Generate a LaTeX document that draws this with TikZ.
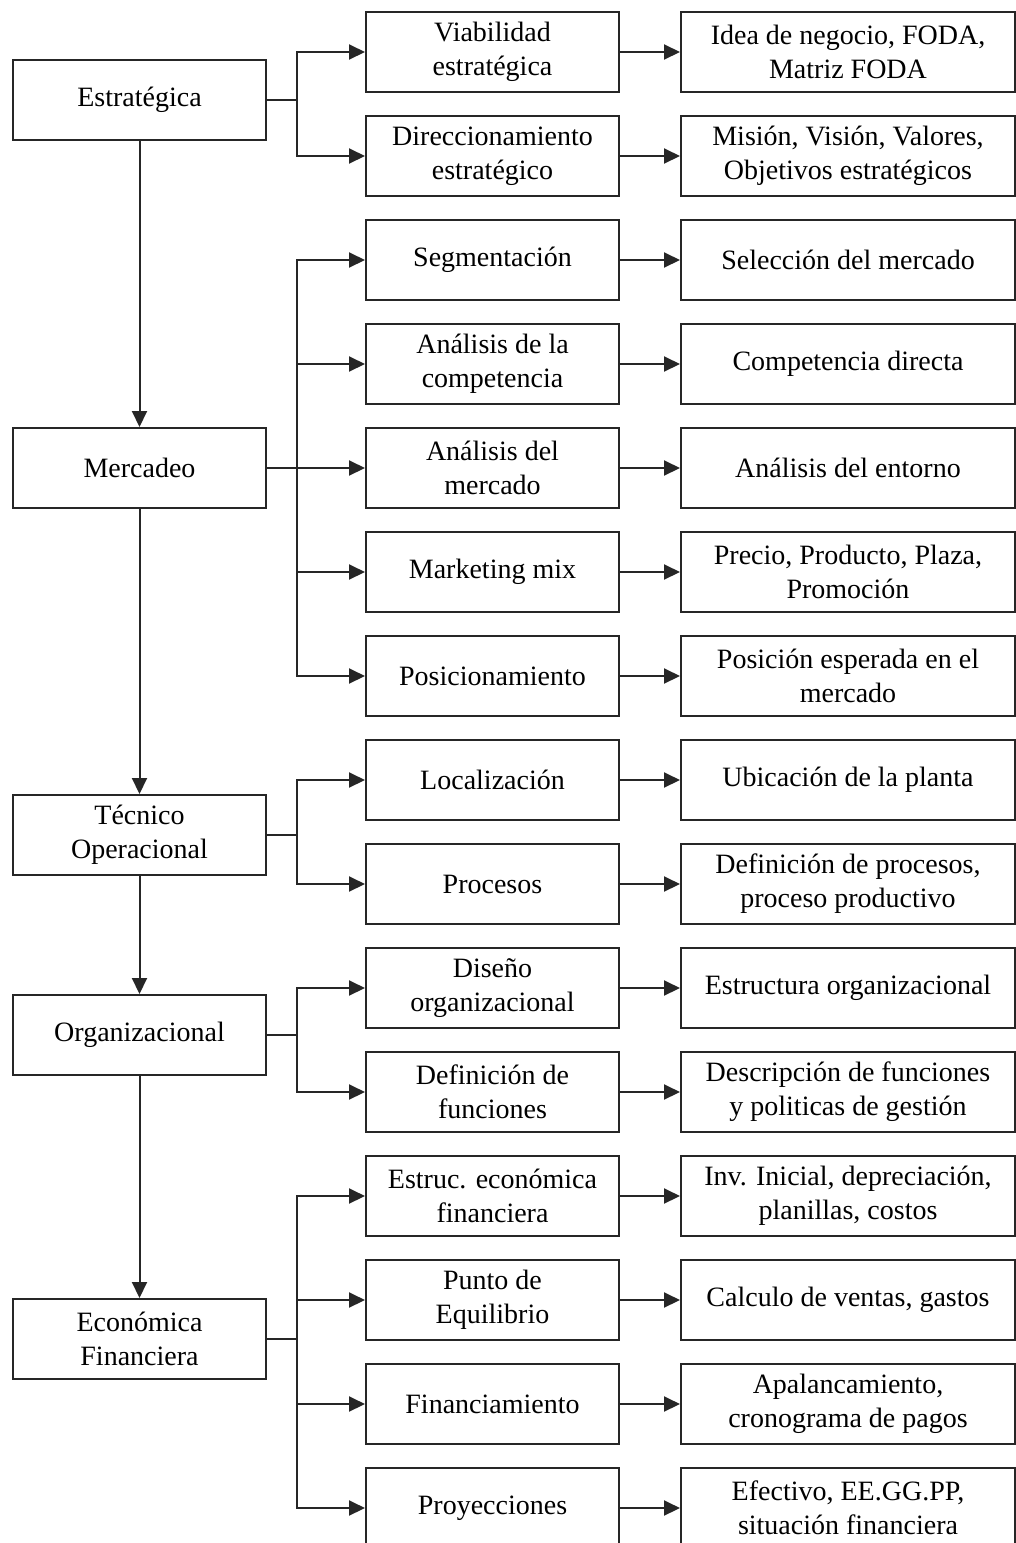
\documentclass[tikz,border=0pt]{standalone}
\usepackage{fontspec}
\setmainfont{Liberation Serif}
\usetikzlibrary{arrows.meta}

\tikzset{
  box/.style={draw=black!85, line width=1pt, minimum height=40pt, inner sep=1pt,
    align=center, font=\fontsize{14}{17}\selectfont},
  leftbox/.style={box, minimum width=126.5pt},
  midbox/.style={box, minimum width=126.5pt},
  rightbox/.style={box, minimum width=167pt},
  line/.style={draw=black!85, line width=1pt},
  stub/.style={line, line width=1.4pt},
  arr/.style={line, -{Triangle[length=8pt,width=7.5pt]}}
}

\begin{document}
\begin{tikzpicture}[x=0.5pt,y=-0.5pt]
        % frame
        \useasboundingbox (0,0) rectangle (1016,1543);
        \clip (0,0) rectangle (1016,1543);
        % left column
        \node[leftbox] (est) at (139.5,100) {Estratégica};
        \node[leftbox] (mer) at (139.5,468) {Mercadeo};
        \node[leftbox] (tec) at (139.5,835) {Técnico\\Operacional};
        \node[leftbox] (org) at (139.5,1035) {Organizacional};
        \node[leftbox] (eco) at (139.5,1339) {Económica\\Financiera};
        % middle column
        \node[midbox] (via) at (492.5,52)   {Viabilidad\\estratégica};
        \node[midbox] (dir) at (492.5,156)  {Direccionamiento\\estratégico};
        \node[midbox] (seg) at (492.5,260)  {Segmentación};
        \node[midbox] (com) at (492.5,364)  {Análisis de la\\competencia};
        \node[midbox] (ana) at (492.5,468)  {Análisis del\\mercado};
        \node[midbox] (mix) at (492.5,572)  {Marketing mix};
        \node[midbox] (pos) at (492.5,676)  {Posicionamiento};
        \node[midbox] (loc) at (492.5,780)  {Localización};
        \node[midbox] (pro) at (492.5,884)  {Procesos};
        \node[midbox] (dis) at (492.5,988)  {Diseño\\organizacional};
        \node[midbox] (fun) at (492.5,1092) {Definición de\\funciones};
        \node[midbox] (estr) at (492.5,1196) {Estruc. económica\\financiera};
        \node[midbox] (pun) at (492.5,1300) {Punto de\\Equilibrio};
        \node[midbox] (fin) at (492.5,1404) {Financiamiento};
        \node[midbox] (pry) at (492.5,1508) {Proyecciones};
        % right column
        \node[rightbox] (via2) at (848,52)   {Idea de negocio, FODA,\\Matriz FODA};
        \node[rightbox] (dir2) at (848,156)  {Misión, Visión, Valores,\\Objetivos estratégicos};
        \node[rightbox] (seg2) at (848,260)  {Selección del mercado};
        \node[rightbox] (com2) at (848,364)  {Competencia directa};
        \node[rightbox] (ana2) at (848,468)  {Análisis del entorno};
        \node[rightbox] (mix2) at (848,572)  {Precio, Producto, Plaza,\\Promoción};
        \node[rightbox] (pos2) at (848,676)  {Posición esperada en el\\mercado};
        \node[rightbox] (loc2) at (848,780)  {Ubicación de la planta};
        \node[rightbox] (pro2) at (848,884)  {Definición de procesos,\\proceso productivo};
        \node[rightbox] (dis2) at (848,988)  {Estructura organizacional};
        \node[rightbox] (fun2) at (848,1092) {Descripción de funciones\\y politicas de gestión};
        \node[rightbox] (estr2) at (848,1196) {Inv. Inicial, depreciación,\\planillas, costos};
        \node[rightbox] (pun2) at (848,1300) {Calculo de ventas, gastos};
        \node[rightbox] (fin2) at (848,1404) {Apalancamiento,\\cronograma de pagos};
        \node[rightbox] (pry2) at (848,1508) {Efectivo, EE.GG.PP,\\situación financiera};
        % main chain
        \draw[arr] (est) -- (mer);
        \draw[arr] (mer) -- (tec);
        \draw[arr] (tec) -- (org);
        \draw[arr] (org) -- (eco);
        % branch points
        \coordinate (bE) at (297,100);
        \coordinate (bM) at (297,468);
        \coordinate (bT) at (297,835);
        \coordinate (bO) at (297,1035);
        \coordinate (bF) at (297,1339);
        \draw[stub] (est.east) -- (bE);
        \draw[line] (mer.east) -- (bM);
        \draw[stub] (tec.east) -- (bT);
        \draw[line] (org.east) -- (bO);
        \draw[stub] (eco.east) -- (bF);
        \foreach \m in {via,dir} \draw[arr] (bE) |- (\m.west);
        \foreach \m in {seg,com,ana,mix,pos} \draw[arr] (bM) |- (\m.west);
        \foreach \m in {loc,pro} \draw[arr] (bT) |- (\m.west);
        \foreach \m in {dis,fun} \draw[arr] (bO) |- (\m.west);
        \foreach \m in {estr,pun,fin,pry} \draw[arr] (bF) |- (\m.west);
        % middle to right
        \foreach \m in {via,dir,seg,com,ana,mix,pos,loc,pro,dis,fun,estr,pun,fin,pry}
          \draw[arr] (\m) -- (\m2);
\end{tikzpicture}
\end{document}
